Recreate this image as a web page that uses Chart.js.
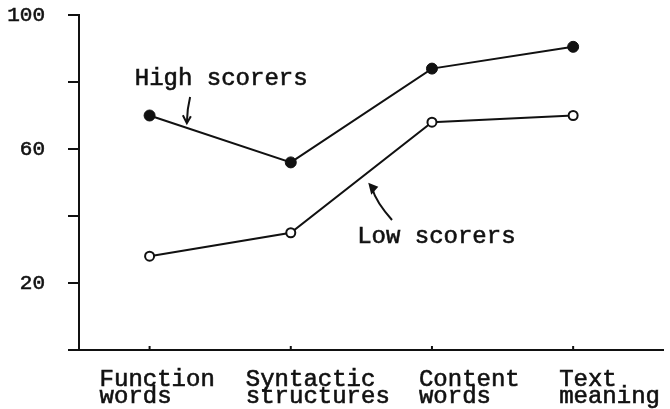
<!DOCTYPE html>
<html>
<head>
<meta charset="utf-8">
<script src="https://cdn.jsdelivr.net/npm/chart.js"></script>
<style>
  html, body { margin: 0; padding: 0; background: #fff; }
  #wrap { width: 670px; height: 409px; }
</style>
</head>
<body>
<div id="wrap"><canvas id="myChart" width="670" height="409"></canvas></div>
<script>
const categories = [
  ["Function", "words"],
  ["Syntactic", "structures"],
  ["Content", "words"],
  ["Text", "meaning"],
];
const highScorers = [70, 56, 84, 90.5];
const lowScorers = [28, 35, 68, 70];
const yTickLabels = [100, 60, 20];

const FONT = "'Liberation Mono', 'DejaVu Sans Mono', monospace";
const INK = "#111";

function toPoints(values) {
  return values.map((v, i) => ({ x: i, y: v }));
}

// typewriter text is a bit heavier than the font, so stroke it lightly too
function typeText(ctx, text, px, py) {
  ctx.fillText(text, px, py);
  ctx.strokeText(text, px, py);
}

// category labels are left aligned under each point
const labelShift = [-50, -45, -13, -14];

const decorations = {
  id: "decorations",
  afterDraw(chart) {
    const { ctx, scales } = chart;
    const x = scales.x;
    const y = scales.y;
    ctx.save();
    ctx.strokeStyle = INK;
    ctx.fillStyle = INK;
    ctx.lineWidth = 2;

    // small upward ticks on the x axis
    const base = y.getPixelForValue(0);
    categories.forEach((c, i) => {
      const px = x.getPixelForValue(i);
      ctx.beginPath();
      ctx.moveTo(px, base);
      ctx.lineTo(px, base - 4);
      ctx.stroke();
    });

    // category labels
    ctx.font = "24px " + FONT;
    ctx.textAlign = "left";
    ctx.textBaseline = "alphabetic";
    ctx.lineWidth = 0.6;
    categories.forEach((lines, i) => {
      const px = x.getPixelForValue(i) + labelShift[i];
      lines.forEach((t, j) => typeText(ctx, t, px, base + 36 + j * 17));
    });

    // series captions
    typeText(ctx, "High scorers", x.getPixelForValue(-0.105), y.getPixelForValue(79));
    typeText(ctx, "Low scorers", x.getPixelForValue(1.47), y.getPixelForValue(32));

    // arrow to high scorers line
    ctx.lineWidth = 2;
    let tx = x.getPixelForValue(0.264), ty = y.getPixelForValue(68);
    let sx = x.getPixelForValue(0.287), sy = y.getPixelForValue(75.5);
    ctx.beginPath();
    ctx.moveTo(sx, sy);
    ctx.quadraticCurveTo(sx - 3, sy + 12, tx, ty);
    ctx.stroke();
    ctx.beginPath();
    ctx.moveTo(tx - 4, ty - 7);
    ctx.lineTo(tx, ty + 1);
    ctx.lineTo(tx + 4, ty - 6);
    ctx.stroke();

    // arrow to low scorers line
    tx = x.getPixelForValue(1.556); ty = y.getPixelForValue(49.6);
    sx = x.getPixelForValue(1.717); sy = y.getPixelForValue(38.8);
    ctx.beginPath();
    ctx.moveTo(sx, sy);
    ctx.quadraticCurveTo(sx - 16, sy - 18, tx + 3, ty + 5);
    ctx.stroke();
    ctx.beginPath();
    ctx.moveTo(tx - 1, ty - 1);
    ctx.lineTo(tx + 9, ty + 3);
    ctx.lineTo(tx + 2, ty + 11);
    ctx.closePath();
    ctx.fill();
    ctx.restore();
  },
};

const ctx = document.getElementById("myChart").getContext("2d");
new Chart(ctx, {
  type: "line",
  data: {
    datasets: [
      {
        label: "High scorers",
        data: toPoints(highScorers),
        borderColor: INK,
        borderWidth: 2,
        pointRadius: 5.5,
        pointBackgroundColor: INK,
        pointBorderColor: INK,
        pointBorderWidth: 1,
        clip: false,
      },
      {
        label: "Low scorers",
        data: toPoints(lowScorers),
        borderColor: INK,
        borderWidth: 2,
        pointRadius: 4.5,
        pointBackgroundColor: "#fff",
        pointBorderColor: INK,
        pointBorderWidth: 2,
        clip: false,
      },
    ],
  },
  options: {
    responsive: false,
    animation: false,
    layout: { padding: { top: 15, right: 0, left: 0, bottom: 0 } },
    plugins: {
      legend: { display: false },
      tooltip: { enabled: false },
    },
    scales: {
      x: {
        type: "linear",
        min: -0.5,
        max: 3.64,
        grid: { display: false },
        border: { display: true, color: INK, width: 2 },
        ticks: { display: false },
        afterFit: (scale) => { scale.height = 59; },
      },
      y: {
        min: 0,
        max: 100,
        grid: {
          drawOnChartArea: false,
          drawTicks: true,
          tickLength: 11,
          color: INK,
          lineWidth: 2,
        },
        border: { display: true, color: INK, width: 2 },
        ticks: {
          stepSize: 20,
          padding: 23,
          color: INK,
          textStrokeColor: INK,
          textStrokeWidth: 0.6,
          font: { family: FONT, size: 21 },
          callback: (v) => (yTickLabels.includes(v) ? String(v) : ""),
        },
        afterFit: (scale) => {
          scale.width = 79;
          scale.paddingTop = 0;
          scale.paddingBottom = 0;
        },
      },
    },
  },
  plugins: [decorations],
});
</script>
</body>
</html>
